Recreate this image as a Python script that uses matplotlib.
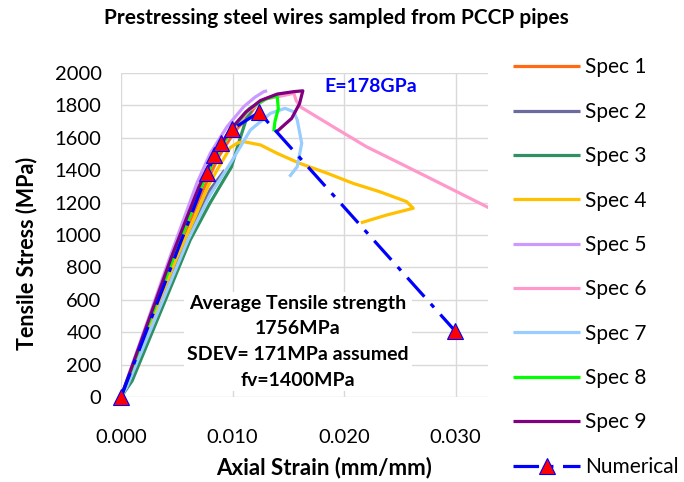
import matplotlib
matplotlib.use('Agg')
import matplotlib.pyplot as plt

plt.rcParams['font.family'] = ['Lato', 'DejaVu Sans']

# strain (mm/mm) and stress (MPa)
spec1_x = [0, 0.0048, 0.0062, 0.0075, 0.0088, 0.0102, 0.0115, 0.0122]
spec1_y = [0, 860, 1090, 1300, 1490, 1640, 1740, 1810]

spec2_x = [0, 0.0052, 0.0068, 0.0080, 0.0093]
spec2_y = [0, 860, 1110, 1280, 1400]

spec3_x = [0, 0.0010, 0.0062, 0.0080, 0.0099, 0.0106, 0.0113, 0.0117]
spec3_y = [0, 100, 969, 1200, 1420, 1580, 1730, 1770]

spec4_x = [0, 0.0050, 0.0065, 0.0078, 0.0086, 0.0098, 0.0105, 0.0110, 0.0125, 0.0140,
           0.0160, 0.0185, 0.0208, 0.0232, 0.0256, 0.0262, 0.0238, 0.0215]
spec4_y = [0, 860, 1090, 1300, 1400, 1540, 1570, 1576, 1556, 1504,
           1443, 1381, 1319, 1267, 1206, 1165, 1123, 1075]

spec5_x = [0, 0.0044, 0.0056, 0.0068, 0.0080, 0.0095, 0.0110, 0.0120, 0.0128, 0.0131]
spec5_y = [0, 866, 1093, 1319, 1504, 1668, 1792, 1850, 1885, 1890]

spec6_x = [0, 0.0047, 0.0060, 0.0072, 0.0085, 0.0100, 0.0115, 0.0130, 0.0145, 0.0155,
           0.0157, 0.0161, 0.0190, 0.0220, 0.0250, 0.0280, 0.0335]
spec6_y = [0, 860, 1090, 1300, 1490, 1650, 1770, 1840, 1860, 1875,
           1830, 1790, 1669, 1545, 1443, 1340, 1150]

spec7_x = [0, 0.0005, 0.0060, 0.0080, 0.0098, 0.0116, 0.0134, 0.0147, 0.0155, 0.0158,
           0.0162, 0.0158, 0.0151]
spec7_y = [0, 60, 969, 1250, 1442, 1648, 1751, 1782, 1760, 1710,
           1566, 1422, 1360]

spec8_x = [0, 0.0047, 0.0060, 0.0072, 0.0085, 0.0100, 0.0115, 0.0130, 0.0140, 0.0141,
           0.0138, 0.0137]
spec8_y = [0, 860, 1090, 1300, 1490, 1660, 1780, 1840, 1860, 1780,
           1700, 1640]

spec9_x = [0, 0.0045, 0.0058, 0.0070, 0.0083, 0.0098, 0.0112, 0.0125, 0.0140, 0.0155,
           0.0163, 0.0160, 0.0153, 0.0140]
spec9_y = [0, 860, 1090, 1300, 1490, 1650, 1760, 1830, 1870, 1885,
           1890, 1810, 1720, 1640]

num_x = [0, 0.00774, 0.00837, 0.00894, 0.00998, 0.01238, 0.02996]
num_y = [0, 1383, 1494, 1566, 1654, 1757, 407]

specs = [
    (spec1_x, spec1_y, '#FF6A13', 'Spec 1'),
    (spec2_x, spec2_y, '#6B6B9F', 'Spec 2'),
    (spec3_x, spec3_y, '#2E9162', 'Spec 3'),
    (spec4_x, spec4_y, '#FFC000', 'Spec 4'),
    (spec5_x, spec5_y, '#CC99FF', 'Spec 5'),
    (spec6_x, spec6_y, '#FF99CC', 'Spec 6'),
    (spec7_x, spec7_y, '#99CCFF', 'Spec 7'),
    (spec8_x, spec8_y, '#00FF00', 'Spec 8'),
    (spec9_x, spec9_y, '#800080', 'Spec 9'),
]

fig = plt.figure(figsize=(6.84, 4.82), dpi=100)
ax = fig.add_axes([121 / 684, 1 - 397 / 482, 367 / 684, 324 / 482])

for x, y, c, lab in specs:
    ax.plot(x, y, color=c, lw=2.3, label=lab, solid_capstyle='butt')

ax.plot(num_x, num_y, color='#0000FF', lw=2.3, dashes=(8, 3, 1.5, 3),
        marker='^', ms=12, markerfacecolor='#FF0000', markeredgecolor='#0000FF',
        markeredgewidth=0.8, label='Numerical', clip_on=False, zorder=5)

ax.set_xlim(0, 0.0329)
ax.set_ylim(0, 2000)
ax.set_xticks([0, 0.01, 0.02, 0.03])
ax.set_xticklabels(['0.000', '0.010', '0.020', '0.030'])
ax.set_yticks(range(0, 2001, 200))
ax.grid(True, color='#D9D9D9', lw=1)
ax.set_axisbelow(True)
for s in ax.spines.values():
    s.set_visible(False)
ax.tick_params(axis='both', length=0, labelsize=14.5)
ax.tick_params(axis='x', pad=23)
ax.tick_params(axis='y', pad=14)

ax.text(0.02242, 1914, 'E=178GPa', color='#0000FF', fontsize=14,
        fontweight='bold', ha='center', va='center')
ax.text(0.01587, 342,
        'Average Tensile strength\n1756MPa\nSDEV= 171MPa assumed\nfv=1400MPa',
        fontsize=14, fontweight='bold', ha='center', va='center', linespacing=1.62,
        bbox=dict(facecolor='white', edgecolor='none', pad=2), zorder=6)

fig.text(336 / 684, 1 - 18 / 482, 'Prestressing steel wires sampled from PCCP pipes',
         fontsize=15, fontweight='bold', ha='center', va='center')
fig.text(324 / 684, 1 - 468 / 482, 'Axial Strain (mm/mm)',
         fontsize=16, fontweight='bold', ha='center', va='center')
fig.text(27 / 684, 1 - 253 / 482, 'Tensile Stress (MPa)', rotation=90,
         fontsize=15.5, fontweight='bold', ha='center', va='center')

fig.legend(loc='upper left', bbox_to_anchor=(503 / 684, 1 - 47 / 482),
           frameon=False, fontsize=15, handlelength=3.2, handletextpad=0.25,
           labelspacing=1.17, borderpad=0, numpoints=1)

plt.savefig('out.png', dpi=100)
plt.close()
